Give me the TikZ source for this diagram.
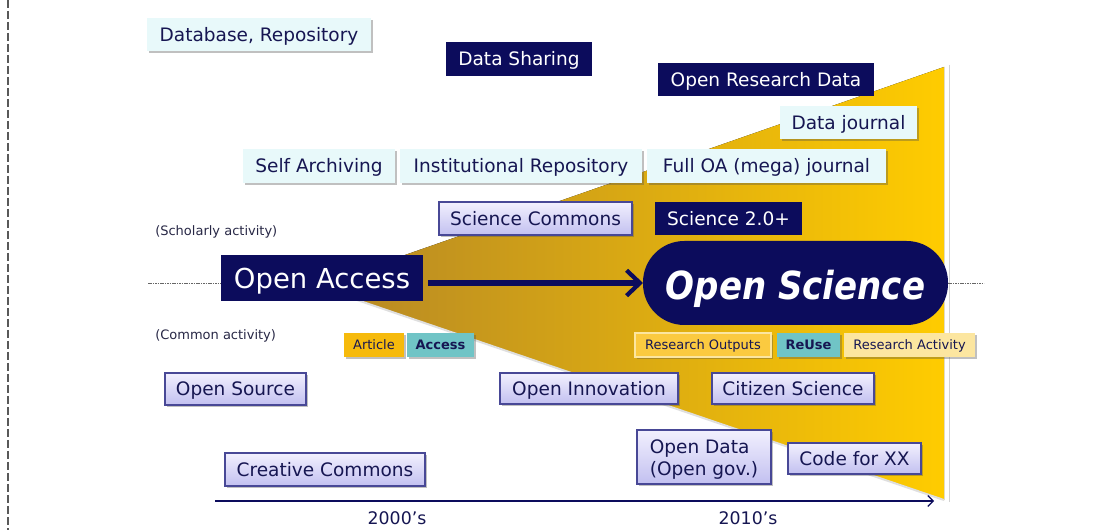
\documentclass[tikz,border=0pt]{standalone}
\usepackage{fontspec}
\setmainfont{DejaVu Sans}
\usepackage{graphicx}
\usetikzlibrary{arrows.meta,shadows}

% one drawing unit = 0.75pt
\newdimen\pxu \pxu=0.75pt

\definecolor{deepnavy}{RGB}{12,12,92}
\definecolor{inknavy}{RGB}{22,22,82}
\definecolor{paleaqua}{RGB}{232,249,250}
\definecolor{lavtop}{RGB}{242,240,254}
\definecolor{lavbot}{RGB}{194,192,240}
\definecolor{lavedge}{RGB}{72,72,150}
\definecolor{tealbox}{RGB}{112,196,198}
\definecolor{amberbox}{RGB}{246,186,12}
\definecolor{sunbox}{RGB}{251,202,64}
\definecolor{creambox}{RGB}{252,230,160}
\definecolor{wedgedark}{RGB}{180,134,38}
\definecolor{wedgemid}{RGB}{230,170,6}
\definecolor{wedgelight}{RGB}{255,204,0}
\definecolor{notegray}{RGB}{40,40,70}

% box placed by its corners: name, x1, y1, x2, y2, style, text
\newcommand\placebox[7]{%
  \node[#6, minimum width={(#4-#2)*\pxu}, minimum height={(#5-#3)*\pxu}]
    (#1) at ({(#2+#4)/2},{(#3+#5)/2}) {#7};}

\tikzset{
  softshadow/.style={drop shadow={shadow xshift=1.2pt, shadow yshift=-1.2pt,
      opacity=0.35, fill=black!70}},
  % centre the capital letters of a line in its box
  capcenter/.style={text height=#1, text depth=0pt},
  boxbase/.style={inner sep=0pt, outer sep=0pt,
      font=\fontsize{13.9pt}{16.5pt}\selectfont},
  darkbox/.style={boxbase, capcenter=10.4pt, fill=deepnavy, text=white},
  palebox/.style={boxbase, capcenter=10.4pt, fill=paleaqua, text=inknavy, softshadow},
  lavfill/.style={boxbase, top color=lavtop, bottom color=lavbot, draw=lavedge,
      line width=0.8pt, text=inknavy, softshadow},
  lavbox/.style={lavfill, capcenter=10.4pt},
  tagbox/.style={inner sep=0pt, outer sep=0pt, text=inknavy, capcenter=7.3pt,
      font=\fontsize{9.75pt}{11pt}\selectfont, softshadow},
  boldtag/.style={tagbox, font=\fontsize{9.75pt}{11pt}\selectfont\bfseries},
  bigbox/.style={inner sep=0pt, outer sep=0pt, fill=deepnavy, text=white, capcenter=15.2pt,
      font=\fontsize{20.6pt}{24pt}\selectfont},
  pillbox/.style={inner sep=0pt, outer sep=0pt, fill=deepnavy, text=white,
      rounded corners=31pt, capcenter=25pt,
      font=\fontsize{29pt}{32pt}\selectfont\bfseries\itshape},
  notetext/.style={inner sep=0pt, text=notegray, font=\fontsize{9.75pt}{11pt}\selectfont},
  yeartext/.style={inner sep=0pt, text=inknavy, font=\fontsize{13pt}{15pt}\selectfont},
  guideline/.style={dash pattern=on 1.2pt off 0.6pt, line width=0.6pt, color=black!60},
  bigarrow/.style={line width=3.8pt, draw=deepnavy,
      -{Straight Barb[length=10pt, width=19pt, line width=3.2pt]}},
  timearrow/.style={line width=0.9pt, draw=deepnavy,
      -{Straight Barb[length=4pt, width=8pt, line width=0.9pt]}}
}

\begin{document}
\begin{tikzpicture}[x=0.75pt, y=-0.75pt]
  \useasboundingbox (0,0) rectangle (1099,530);
  \fill[white] (0,0) rectangle (1099,530);

  % page edge
  \draw[dash pattern=on 6pt off 2.25pt, line width=1pt, color=black!65]
    (8,0) -- (8,530);

  % widening wedge
  \coordinate (apex) at (316,286);
  \coordinate (wtop) at (944,67);
  \coordinate (wbot) at (944,500);
  \fill[left color=wedgedark, middle color=wedgemid, right color=wedgelight]
    (apex) -- (wtop) -- (wbot) -- cycle;
  \draw[gray!25, line width=1.5pt] (apex) -- (wbot);
  \coordinate (etop) at (949,65);
  \coordinate (ebot) at (949,502);
  \draw[gray!35, line width=0.6pt] (etop) -- (ebot);

  % scholarly side
  \placebox{db}{147}{18}{371}{51}{palebox}{Database, Repository}
  \placebox{ds}{446}{42}{592}{76}{darkbox}{Data Sharing}
  \placebox{ord}{658}{63}{874}{96}{darkbox}{Open Research Data}
  \placebox{dj}{780}{106}{917}{139}{palebox}{Data journal}
  \placebox{sa}{243}{149}{395}{183}{palebox}{Self Archiving}
  \placebox{ir}{400}{149}{642}{183}{palebox}{Institutional Repository}
  \placebox{foa}{647}{149}{886}{183}{palebox}{Full OA (mega) journal}
  \placebox{scom}{439}{202}{632}{235}{lavbox}{Science Commons}
  \placebox{stwo}{655}{202}{802}{235}{darkbox}{Science 2.0+}
  \node[notetext, anchor=west] (schol) at (155,232) {(Scholarly activity)};

  % main transition
  \placebox{oa}{221}{255}{423}{301}{bigbox}{Open Access}
  \placebox{os}{643}{241}{948}{325}{pillbox}{\scalebox{0.88}[1]{Open Science}}
  \draw[bigarrow, shorten <=3.75pt] (oa.east |- os.west) -- (os.west);
  \coordinate (gl) at (148,283);
  \coordinate (gr) at (984,283);
  \draw[guideline] (gl) -- (gl -| oa.west);
  \draw[guideline] (os.east |- gr) -- (gr);

  % tags
  \node[notetext, anchor=west] (common) at (155,336) {(Common activity)};
  \placebox{art}{344}{333}{404}{357}{tagbox, fill=amberbox}{Article}
  \placebox{acc}{407}{333}{474}{357}{boldtag, fill=tealbox}{Access}
  \placebox{rout}{635}{333}{771}{357}{tagbox, fill=sunbox, draw=creambox, line width=0.8pt}{Research Outputs}
  \placebox{reuse}{777}{333}{840}{357}{boldtag, fill=tealbox}{ReUse}
  \placebox{ract}{844}{333}{975}{357}{tagbox, fill=creambox}{Research Activity}

  % common side
  \placebox{osrc}{165}{373}{306}{405}{lavbox}{Open Source}
  \placebox{oinn}{500}{373}{678}{404}{lavbox}{Open Innovation}
  \placebox{cits}{712}{373}{874}{404}{lavbox}{Citizen Science}
  \placebox{odat}{637}{430}{771}{484}{lavfill, align=left,
    text height=27pt, text depth=0pt}{Open Data\\(Open gov.)}
  \placebox{cfx}{788}{443}{921}{474}{lavbox}{Code for XX}
  \placebox{ccom}{225}{453}{425}{486}{lavbox}{Creative Commons}

  % time axis
  \coordinate (t0) at (215,501);
  \coordinate (t1) at (934,501);
  \draw[timearrow] (t0) -- (t1);
  \node[yeartext] (y1) at (397,518) {2000’s};
  \node[yeartext] (y2) at (748,518) {2010’s};
\end{tikzpicture}
\end{document}
